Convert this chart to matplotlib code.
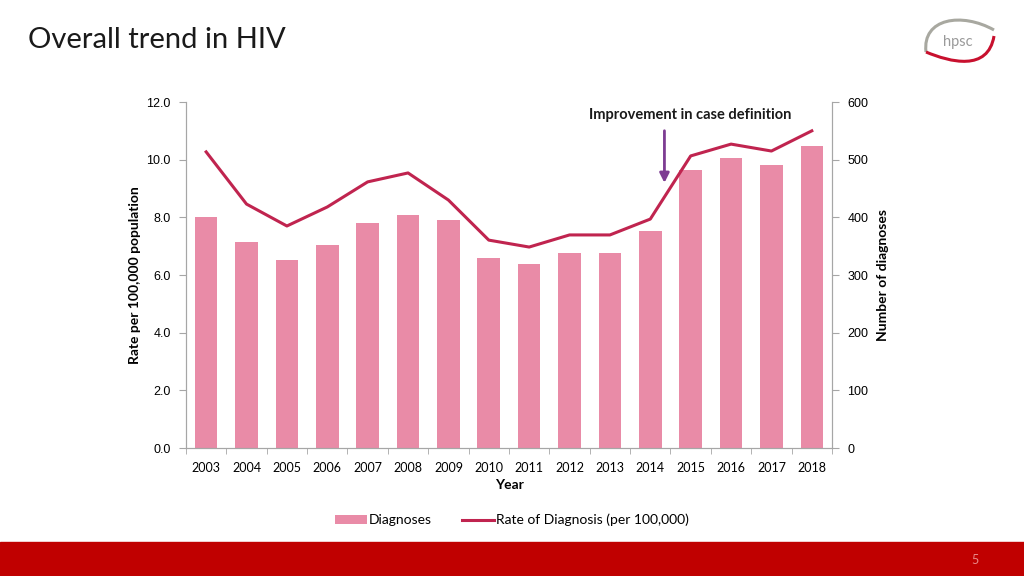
import numpy as np
import matplotlib.pyplot as plt
from matplotlib.patches import Rectangle, PathPatch
from matplotlib.path import Path

years = ["2003", "2004", "2005", "2006", "2007", "2008", "2009", "2010",
         "2011", "2012", "2013", "2014", "2015", "2016", "2017", "2018"]
diagnoses = [400, 357, 326, 352, 390, 404, 395, 330,
             319, 338, 338, 376, 482, 503, 491, 524]
rate = [10.27, 8.46, 7.70, 8.36, 9.23, 9.54, 8.60, 7.21,
        6.97, 7.39, 7.39, 7.94, 10.13, 10.54, 10.30, 11.00]
left_ticks = [0, 2, 4, 6, 8, 10, 12]
right_ticks = [0, 100, 200, 300, 400, 500, 600]

bar_color = "#E98BA7"
line_color = "#C0244F"
spine_color = "#A6A6A6"


def px(x, y):
    # pixel position -> figure fraction
    return (x / 1024, 1 - y / 576)


def main():
    fig = plt.figure(figsize=(10.24, 5.76), dpi=100)
    fig.patch.set_facecolor("white")

    ax = fig.add_axes([0.1816, 0.2222, 0.6309, 0.6007])
    ax2 = ax.twinx()
    ax.set_zorder(ax2.get_zorder() + 1)
    ax.patch.set_visible(False)

    x = np.arange(len(years))
    bars = ax2.bar(x, diagnoses, width=0.56, color=bar_color, label="Diagnoses")
    line, = ax.plot(x, rate, color=line_color, lw=2.2, label="Rate of Diagnosis (per 100,000)")

    ax.set_xlim(-0.5, len(years) - 0.5)
    ax.set_ylim(0, 12)
    ax2.set_ylim(0, 600)
    ax.set_yticks(left_ticks)
    ax.set_yticklabels([f"{v:.1f}" for v in left_ticks])
    ax2.set_yticks(right_ticks)
    ax2.set_yticklabels([str(v) for v in right_ticks])

    ax.set_xticks(x)
    ax.set_xticklabels(years, fontsize=9, family="Lato")
    ax.set_xticks(np.arange(-0.5, len(years)), minor=True)
    ax.tick_params(axis="x", which="major", length=0, pad=10)
    ax.tick_params(axis="x", which="minor", length=4, color=spine_color)

    for a in (ax, ax2):
        a.spines["top"].set_visible(False)
        for s in ("left", "right", "bottom"):
            a.spines[s].set_color(spine_color)
        a.tick_params(axis="y", length=5, color=spine_color, labelsize=9, pad=6)
    for lbl in ax.get_yticklabels() + ax2.get_yticklabels():
        lbl.set_family("Liberation Sans")

    ax.set_ylabel("Rate per 100,000 population", fontsize=10, fontweight="bold",
                  family="Lato", labelpad=4)
    ax2.set_ylabel("Number of diagnoses", fontsize=10, fontweight="bold",
                   family="Lato", labelpad=6)
    ax.set_xlabel("Year", fontsize=10, fontweight="bold", family="Lato", labelpad=4)

    # annotation for the change in case definition
    ax.annotate("", xy=(11.35, 9.1), xytext=(11.35, 11.1),
                arrowprops=dict(arrowstyle="-|>", color="#7D3C92", lw=2, mutation_scale=14))
    ax.text(12.0, 11.3, "Improvement in case definition", fontsize=10.5,
            fontweight="bold", family="Lato", ha="center", va="bottom", color="#1a1a1a")

    fig.legend(handles=[bars, line], loc="center", bbox_to_anchor=(0.5, 0.097),
               ncol=2, frameon=False, prop={"family": "Lato", "size": 10},
               handlelength=2.3, handletextpad=0.1, columnspacing=2.2)

    # title
    fig.text(0.027, 0.93, "Overall trend in HIV", fontsize=21, family="Lato",
             ha="left", va="center", color="#1a1a1a")

    # footer band and page number
    fig.patches.append(Rectangle((0, 0), 1, 34 / 576, transform=fig.transFigure,
                                 color="#C00000", zorder=0))
    fig.text(0.952, 0.028, "5", fontsize=9, color="#E88A8A", ha="center", va="center",
             family="Lato")

    # simple logo
    top = Path([px(926, 52), px(922, 18), px(962, 12), px(994, 30)],
               [Path.MOVETO, Path.CURVE4, Path.CURVE4, Path.CURVE4])
    bot = Path([px(926, 52), px(950, 62), px(988, 72), px(994, 36)],
               [Path.MOVETO, Path.CURVE4, Path.CURVE4, Path.CURVE4])
    fig.patches.append(PathPatch(top, transform=fig.transFigure, fill=False,
                                 ec="#A8A8A0", lw=2.2))
    fig.patches.append(PathPatch(bot, transform=fig.transFigure, fill=False,
                                 ec="#C8102E", lw=2.2))
    fig.text(*px(958, 42), "hpsc", fontsize=10.5, color="#9A9A9A",
             ha="center", va="center", family="Lato")

    fig.savefig("out.png", dpi=100)


if __name__ == '__main__':
    main()
